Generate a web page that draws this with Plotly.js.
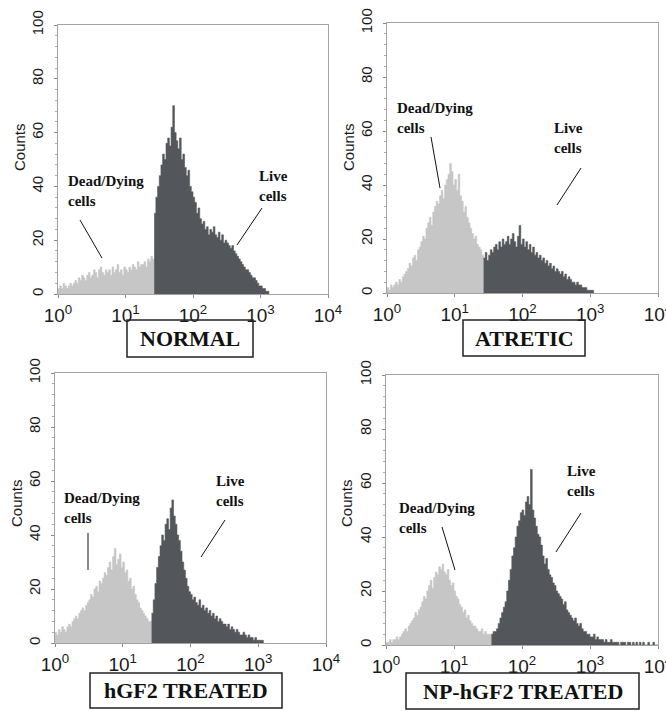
<!DOCTYPE html>
<html>
<head>
<meta charset="utf-8">
<script src="https://cdn.plot.ly/plotly-3.0.1.min.js"></script>
<style>html,body{margin:0;padding:0;background:#fff;}#chart{width:666px;height:711px;}</style>
</head>
<body>
<div id="chart"></div>
<script>
// ---- Data (counts per channel, 40 channels per decade) ----
const BINS_PER_DECADE = 40;
const panelNames = ["NORMAL", "ATRETIC", "hGF2 TREATED", "NP-hGF2 TREATED"];
const gateBins = [57, 57, 57, 62];   // first channel of the "live" gate

const normalDead = [2,3,2,4,3,2,3,4,3,4, 5,4,6,5,7,6,5,7,8,6, 7,9,8,6,9,10,8,7,9,8,
  9,7,10,8,9,11,8,9,7,10, 9,8,10,9,11,10,9,12,10,11, 11,12,10,13,12,14,13];
const normalLive = [30,36,40, 44,48,52,50,56,58,55,62,70,60, 57,54,58,50,52,47,44,46,40,38,
  36,34,30,32,28,26,27,24,25,22, 24,23,25,22,21,23,20,22,19,20,
  19,18,17,18,16,15,14,13,12,11, 10,9,9,8,7,6,6,5,4,3, 3,2,2,1,1];

const atreticDead = [2,1,3,2,3,4,3,5,4,6, 7,8,9,11,10,13,14,12,16,17, 19,21,20,24,26,28,25,30,32,34,
  33,36,38,35,40,42,44,48,45,40, 42,38,44,36,34,30,32,28,26,24, 22,20,21,18,17,16,14];
const atreticLive = [13,15,12, 14,16,15,17,18,16,19,17,20,18, 19,21,18,20,22,19,17,21,25,18,
  20,17,19,16,18,15,17,14,15,13, 14,12,13,11,12,10,11,9,10,8,
  9,8,7,8,6,7,5,6,5,4, 4,3,4,3,3,2,2,2,1,1, 1,1];

const hgf2Dead = [4,3,5,4,6,5,4,6,7,6, 8,9,10,9,11,12,13,12,14,15, 16,18,17,20,21,19,23,22,24,26,
  25,28,30,27,32,35,29,31,33,28, 30,26,27,23,24,20,21,18,16,15, 13,12,11,10,9,8,8];
const hgf2Live = [11,16,22, 28,32,36,40,38,44,46,42,50,53, 47,44,40,38,34,30,27,24,21,19,
  18,16,17,15,14,16,13,14,12,13, 11,12,10,11,9,10,8,9,8,7,
  7,6,7,5,6,5,4,5,4,3, 3,4,3,2,3,2,2,1,2,1, 1,1,1];

const npDead = [1,1,2,1,2,2,3,2,3,4, 5,6,5,7,8,9,10,12,11,13, 14,16,18,17,20,22,24,21,25,27,
  26,29,28,30,27,26,28,24,22,23, 20,18,17,15,14,12,13,10,11,9, 8,7,7,6,5,5,6,4,5,4, 4,4];
const npLive = [4,5,5,6,8,10,12,14, 16,20,24,28,33,36,40,44,46,49,
  50,48,53,55,52,65,50,47,44,41, 40,37,33,30,32,28,26,25,23,22,
  20,19,18,17,15,16,13,12,11,10, 9,10,8,7,8,6,5,5,4,4,
  3,3,4,2,3,2,2,2,1,2, 1,1,2,1,1,1,1,0,1,1,
  1,0,1,1,0,1,0,1,0,1, 0,1,0,0,1,0,0,1,0,0];

const deadSeries = [normalDead, atreticDead, hgf2Dead, npDead];
const liveSeries = [normalLive, atreticLive, hgf2Live, npLive];

const xTickVals = [1, 10, 100, 1000, 10000];
const xTickText = ["10<sup>0</sup>", "10<sup>1</sup>", "10<sup>2</sup>", "10<sup>3</sup>", "10<sup>4</sup>"];
const yTickVals = [0, 20, 40, 60, 80, 100];

// ---- Layout geometry (pixels of the 666x711 page) ----
const W = 666, H = 711;
const px = v => v / W;
const py = v => 1 - v / H;
const plotBoxes = [ // left, right, top, bottom
  [58, 328, 25, 294],
  [387, 658, 23, 293],
  [55, 326, 373, 643],
  [386, 658, 375, 645]
];
const labelBoxes = [
  [127, 253, 320, 357],
  [463, 585, 320, 356],
  [90, 282, 673, 708],
  [406, 639, 673, 709]
];
const deadText = [[66, 171], [395, 98], [62, 488], [397, 498]];
const liveText = [[257, 166], [552, 118], [214, 471], [565, 461]];
const deadLines = [[80,220,102,258],[431,137,440,188],[88,533,88,570],[442,527,455,570]];
const liveLines = [[262,208,237,245],[581,168,557,205],[225,520,201,557],[581,513,556,552]];
const countsPos = [[19, 147], [348, 147], [17, 503], [347, 503]];

const LIGHT = "#c6c6c6", DARK = "#53575b";

function stepTrace(values, startBin, color, idx) {
  const x = values.map((_, i) => Math.pow(10, (startBin + i) / BINS_PER_DECADE));
  const y = values.slice();
  x.push(Math.pow(10, (startBin + values.length) / BINS_PER_DECADE));
  y.push(0);
  const s = idx === 0 ? "" : String(idx + 1);
  return {
    type: "scatter", mode: "lines", x: x, y: y,
    line: {shape: "hv", width: 0.6, color: color},
    fill: "tozeroy", fillcolor: color,
    xaxis: "x" + s, yaxis: "y" + s, showlegend: false, hoverinfo: "skip"
  };
}

const data = [];
const layout = {
  width: W, height: H, margin: {l: 0, r: 0, t: 0, b: 0},
  paper_bgcolor: "#fff", plot_bgcolor: "#fff", showlegend: false,
  annotations: [], shapes: []
};

for (let k = 0; k < 4; k++) {
  data.push(stepTrace(deadSeries[k], 0, LIGHT, k));
  data.push(stepTrace(liveSeries[k], gateBins[k], DARK, k));
  const s = k === 0 ? "" : String(k + 1);
  const b = plotBoxes[k];
  layout["xaxis" + s] = {
    domain: [px(b[0]), px(b[1])], anchor: "y" + s, type: "log", range: [0, 4],
    tickmode: "array", tickvals: xTickVals, ticktext: xTickText,
    showline: true, mirror: true, linecolor: "#a3a3a3", linewidth: 1,
    ticks: "outside", ticklen: 3, tickcolor: "#888",
    showgrid: false, zeroline: false, ticklabelstandoff: 1, ticklabeloverflow: "allow",
    tickfont: {family: "Liberation Sans, Arial", size: 19, color: "#1a1a1a"}
  };
  layout["yaxis" + s] = {
    domain: [py(b[3]), py(b[2])], anchor: "x" + s, range: [0, 100],
    tickmode: "array", tickvals: yTickVals, tickangle: -90,
    showline: true, mirror: true, linecolor: "#a3a3a3", linewidth: 1,
    ticks: "outside", ticklen: 3, tickcolor: "#888",
    minor: {ticks: "outside", ticklen: 2, dtick: 4, tickcolor: "#aaa"},
    showgrid: false, zeroline: false, ticklabelstandoff: 5,
    tickfont: {family: "Liberation Sans, Arial", size: 15, color: "#1a1a1a"}
  };
  // Counts title
  layout.annotations.push({
    xref: "paper", yref: "paper", x: px(countsPos[k][0]), y: py(countsPos[k][1]),
    text: "Counts", textangle: -90, showarrow: false, xanchor: "center", yanchor: "middle",
    font: {family: "Liberation Sans, Arial", size: 15, color: "#1a1a1a"}
  });
  // cell labels
  layout.annotations.push({
    xref: "paper", yref: "paper", x: px(deadText[k][0]), y: py(deadText[k][1]),
    text: "<b>Dead/Dying<br>cells</b>", showarrow: false, xanchor: "left", yanchor: "top", align: "left",
    font: {family: "Liberation Serif, Times New Roman", size: 15, color: "#111"}
  });
  layout.annotations.push({
    xref: "paper", yref: "paper", x: px(liveText[k][0]), y: py(liveText[k][1]),
    text: "<b>Live<br>cells</b>", showarrow: false, xanchor: "left", yanchor: "top", align: "left",
    font: {family: "Liberation Serif, Times New Roman", size: 15, color: "#111"}
  });
  // pointer lines
  [deadLines[k], liveLines[k]].forEach(l => layout.shapes.push({
    type: "line", xref: "paper", yref: "paper",
    x0: px(l[0]), y0: py(l[1]), x1: px(l[2]), y1: py(l[3]),
    line: {color: "#111", width: 1}
  }));
  // labelled box under each panel
  const lb = labelBoxes[k];
  layout.shapes.push({
    type: "rect", xref: "paper", yref: "paper",
    x0: px(lb[0]), x1: px(lb[1]), y0: py(lb[3]), y1: py(lb[2]),
    line: {color: "#222", width: 1.5}, fillcolor: "rgba(0,0,0,0)"
  });
  layout.annotations.push({
    xref: "paper", yref: "paper", x: px((lb[0] + lb[1]) / 2), y: py((lb[2] + lb[3]) / 2),
    text: "<b>" + panelNames[k] + "</b>", showarrow: false, xanchor: "center", yanchor: "middle",
    font: {family: "Liberation Serif, Times New Roman", size: 22, color: "#111"}
  });
}

Plotly.newPlot("chart", data, layout, {staticPlot: true, displayModeBar: false});
</script>
</body>
</html>
